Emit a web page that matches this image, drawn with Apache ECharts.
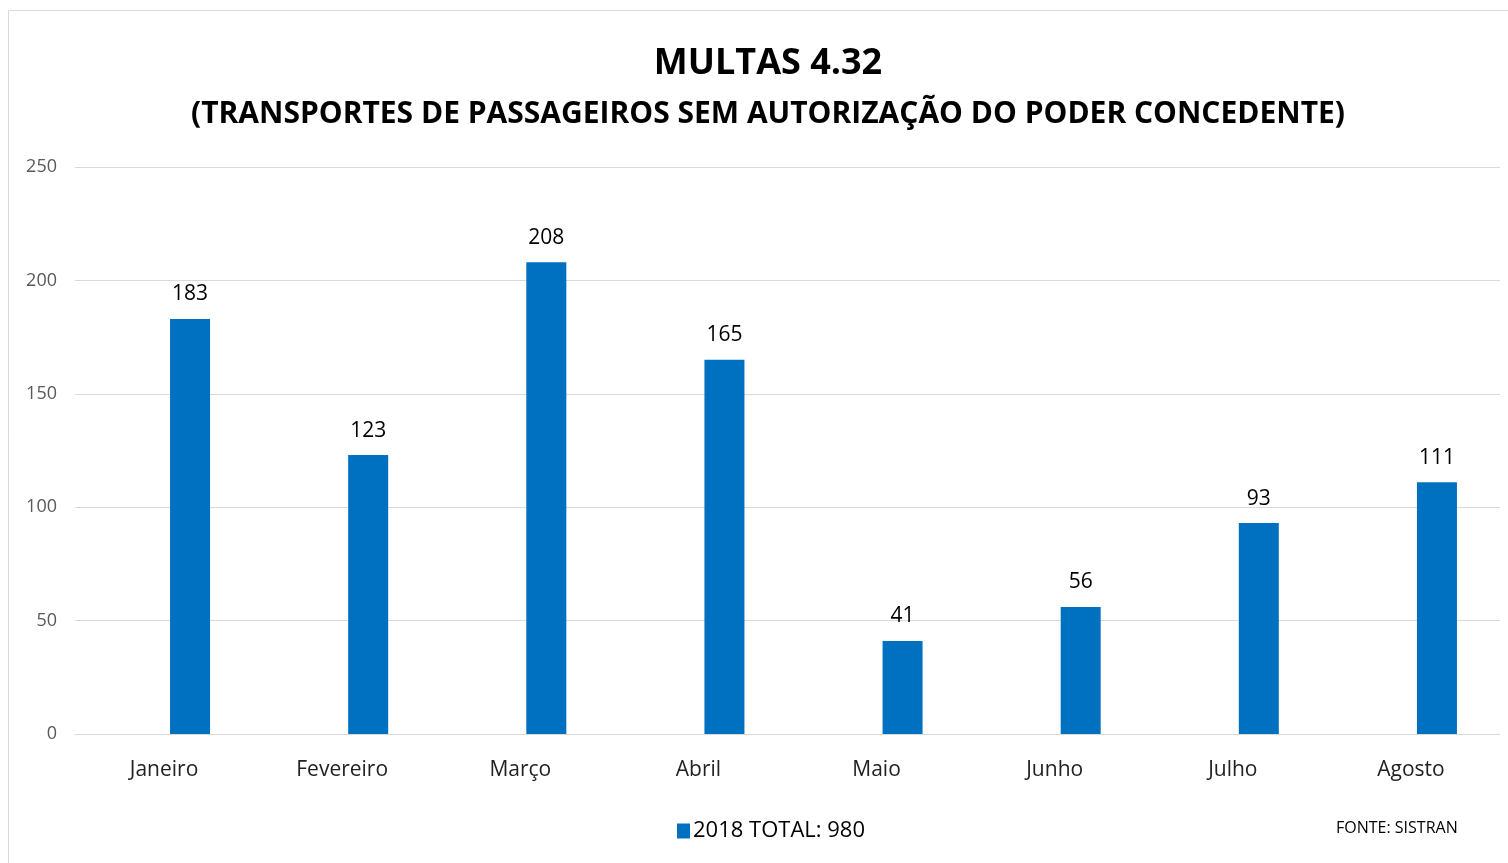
<!DOCTYPE html>
<html><head><meta charset="utf-8">
<script src="https://cdn.jsdelivr.net/npm/echarts@6/dist/echarts.min.js"></script>
<style>html,body{margin:0;padding:0;background:#fff}#c{width:1508px;height:863px}</style>
</head><body><div id="c"></div>
<script>
const categories = ['Janeiro','Fevereiro','Março','Abril','Maio','Junho','Julho','Agosto'];
const values2018 = [183,123,208,165,41,56,93,111];
const seriesName = '2018 TOTAL: 980';
const yTicks = {min:0, max:250, interval:50};
const titleText = 'MULTAS 4.32';
const subtitleText = '(TRANSPORTES DE PASSAGEIROS SEM AUTORIZAÇÃO DO PODER CONCEDENTE)';
const sourceText = 'FONTE: SISTRAN';

const F = '"Open Sans",sans-serif';
const chart = echarts.init(document.getElementById('c'), null, {renderer:'canvas'});
chart.setOption({
  animation:false,
  backgroundColor:'#fff',
  title:[
    {text:titleText,left:763,textAlign:'center',top:41,textStyle:{fontFamily:F,fontSize:36,fontWeight:'bold',color:'#000'}},
    {text:subtitleText,left:763,textAlign:'center',top:94,textStyle:{fontFamily:F,fontSize:30,fontWeight:'bold',color:'#000'}},
    {text:sourceText,left:1331,top:815,textStyle:{fontFamily:F,fontSize:16,fontWeight:'normal',color:'#000'}}
  ],
  graphic:[{type:'rect',shape:{x:8.5,y:10.5,width:1520,height:900},style:{fill:'none',stroke:'#d9d9d9',lineWidth:1},silent:true}],
  legend:{data:[seriesName],left:672,top:815,itemWidth:13,itemHeight:15,itemGap:6,icon:'rect',
    textStyle:{fontFamily:F,fontSize:22,color:'#000',padding:[0,0,0,-2]}},
  grid:{left:75,right:8,top:167,bottom:129,containLabel:false},
  xAxis:{type:'category',data:categories,
    axisLine:{lineStyle:{color:'#d9d9d9',width:1}},axisTick:{show:false},
    axisLabel:{fontFamily:F,fontSize:21,color:'#222',margin:26}},
  yAxis:{type:'value',min:yTicks.min,max:yTicks.max,interval:yTicks.interval,
    axisLine:{show:false},axisTick:{show:false},
    splitLine:{lineStyle:{color:'#d9d9d9',width:1}},
    axisLabel:{fontFamily:F,fontSize:18,color:'#595959',margin:18}},
  series:[
    {name:'_',type:'bar',data:values2018.map(()=>null),barWidth:40,barGap:'30%',itemStyle:{color:'transparent'}},
    {name:seriesName,type:'bar',data:values2018,barWidth:40,barGap:'30%',
      itemStyle:{color:'#0070c0'},
      label:{show:true,position:'top',distance:14,fontFamily:F,fontSize:21,color:'#000'}}
  ]
});
</script></body></html>
